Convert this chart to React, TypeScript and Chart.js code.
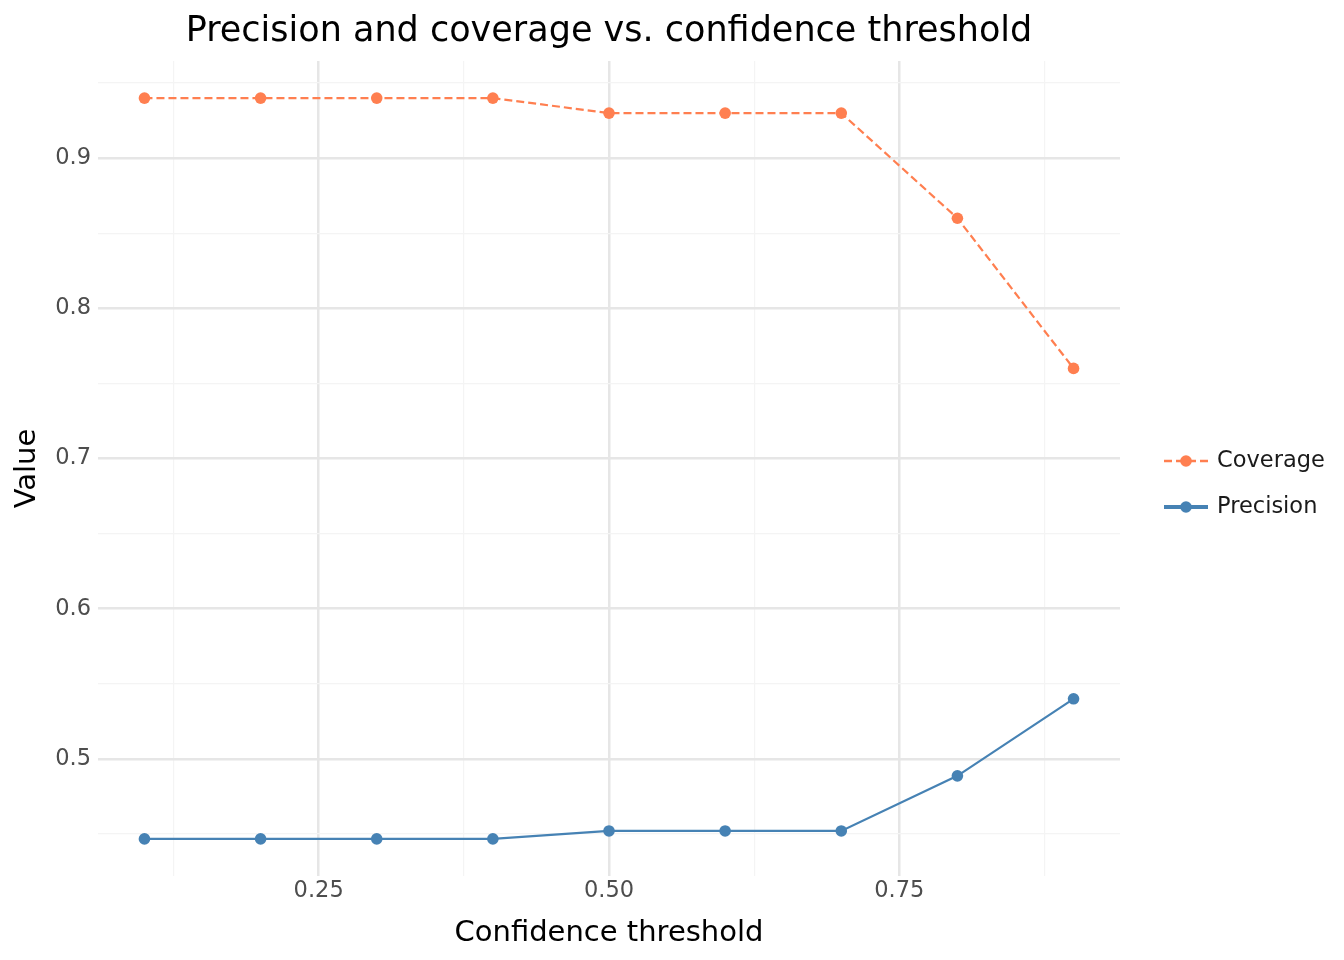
import React, { useEffect, useRef } from "react";
import { Chart, registerables, type ChartConfiguration, type Plugin } from "chart.js";

Chart.register(...registerables);

const thresholds = [0.1, 0.2, 0.3, 0.4, 0.5, 0.6, 0.7, 0.8, 0.9];
const coverage = [0.94, 0.94, 0.94, 0.94, 0.93, 0.93, 0.93, 0.86, 0.76];
const precision = [0.4467, 0.4467, 0.4467, 0.4467, 0.452, 0.452, 0.452, 0.4887, 0.54];

const xMajorTicks = [0.25, 0.5, 0.75];
const xMinorTicks = [0.125, 0.375, 0.625, 0.875];
const yMajorTicks = [0.5, 0.6, 0.7, 0.8, 0.9];
const yMinorTicks = [0.45, 0.55, 0.65, 0.75, 0.85, 0.95];

const FONT = "'DejaVu Sans', 'Noto Sans', sans-serif";
const COVERAGE_COLOR = "#FF7F50";
const PRECISION_COLOR = "#4682B4";
const MAJOR_GRID = "#E6E6E6";
const MINOR_GRID = "#F4F4F4";

const isMajor = (v: number, majors: number[]) => majors.some((m) => Math.abs(m - v) < 1e-9);

// legend on the right, drawn like ggplot's key boxes
const sideLegend: Plugin<"line"> = {
  id: "sideLegend",
  afterDraw(chart) {
    const { ctx } = chart;
    const rows = [
      { ds: chart.data.datasets[0], y: 461, width: 2.5 },
      { ds: chart.data.datasets[1], y: 507, width: 4 },
    ];
    ctx.save();
    for (const row of rows) {
      const color = row.ds.borderColor as string;
      const dash = (row.ds as any).borderDash || [];
      ctx.strokeStyle = color;
      ctx.lineWidth = row.width;
      ctx.setLineDash(dash);
      ctx.beginPath();
      ctx.moveTo(1164, row.y);
      ctx.lineTo(1208, row.y);
      ctx.stroke();
      ctx.setLineDash([]);
      ctx.fillStyle = color;
      ctx.beginPath();
      ctx.arc(1186, row.y, 5.8, 0, Math.PI * 2);
      ctx.fill();
      ctx.fillStyle = "#1A1A1A";
      ctx.font = `22.5px ${FONT}`;
      ctx.textAlign = "left";
      ctx.textBaseline = "middle";
      ctx.fillText(String(row.ds.label), 1217, row.y);
    }
    ctx.restore();
  },
};

export default function App() {
  const canvasRef = useRef<HTMLCanvasElement | null>(null);
  const chartRef = useRef<Chart<"line"> | null>(null);

  useEffect(() => {
    if (!canvasRef.current) return;

    const config: ChartConfiguration<"line"> = {
      type: "line",
      data: {
        datasets: [
          {
            label: "Coverage",
            data: thresholds.map((x, i) => ({ x, y: coverage[i] })),
            borderColor: COVERAGE_COLOR,
            backgroundColor: COVERAGE_COLOR,
            borderWidth: 2.2,
            borderDash: [8, 4],
            pointRadius: 5.8,
            pointBorderWidth: 0,
            pointBackgroundColor: COVERAGE_COLOR,
            tension: 0,
          },
          {
            label: "Precision",
            data: thresholds.map((x, i) => ({ x, y: precision[i] })),
            borderColor: PRECISION_COLOR,
            backgroundColor: PRECISION_COLOR,
            borderWidth: 2.2,
            pointRadius: 5.8,
            pointBorderWidth: 0,
            pointBackgroundColor: PRECISION_COLOR,
            tension: 0,
          },
        ],
      },
      options: {
        responsive: true,
        maintainAspectRatio: false,
        animation: false,
        layout: { padding: { top: 0, right: 224, bottom: 0, left: 0 } },
        plugins: {
          legend: { display: false },
          tooltip: { enabled: false },
          title: {
            display: true,
            fullSize: false,
            text: "Precision and coverage vs. confidence threshold",
            color: "#000000",
            font: { family: FONT, size: 35, weight: "normal" },
            padding: { top: 11, bottom: 8 },
          },
        },
        scales: {
          x: {
            type: "linear",
            min: 0.06,
            max: 0.94,
            afterBuildTicks: (axis) => {
              axis.ticks = [...xMinorTicks, ...xMajorTicks]
                .sort((a, b) => a - b)
                .map((value) => ({ value }));
            },
            afterFit: (axis) => {
              axis.height = 84;
            },
            border: { display: false },
            grid: {
              drawTicks: false,
              color: (c) => (isMajor(c.tick.value, xMajorTicks) ? MAJOR_GRID : MINOR_GRID),
              lineWidth: (c) => (isMajor(c.tick.value, xMajorTicks) ? 2.5 : 1.2),
            },
            ticks: {
              autoSkip: false,
              maxRotation: 0,
              padding: 2,
              color: "#4D4D4D",
              font: { family: FONT, size: 22.5 },
              callback: (v) => (isMajor(Number(v), xMajorTicks) ? Number(v).toFixed(2) : ""),
            },
            title: {
              display: true,
              text: "Confidence threshold",
              color: "#000000",
              font: { family: FONT, size: 29 },
              padding: { top: 0, bottom: 9 },
            },
          },
          y: {
            type: "linear",
            min: 0.422,
            max: 0.9647,
            afterBuildTicks: (axis) => {
              axis.ticks = [...yMinorTicks, ...yMajorTicks]
                .sort((a, b) => a - b)
                .map((value) => ({ value }));
            },
            afterFit: (axis) => {
              axis.width = 98;
            },
            border: { display: false },
            grid: {
              drawTicks: false,
              color: (c) => (isMajor(c.tick.value, yMajorTicks) ? MAJOR_GRID : MINOR_GRID),
              lineWidth: (c) => (isMajor(c.tick.value, yMajorTicks) ? 2.5 : 1.2),
            },
            ticks: {
              autoSkip: false,
              padding: 7,
              color: "#4D4D4D",
              font: { family: FONT, size: 22.5 },
              callback: (v) => (isMajor(Number(v), yMajorTicks) ? Number(v).toFixed(1) : ""),
            },
            title: {
              display: true,
              text: "Value",
              color: "#000000",
              font: { family: FONT, size: 29 },
              padding: { top: 10, bottom: 0 },
            },
          },
        },
      },
      plugins: [sideLegend],
    };

    chartRef.current = new Chart(canvasRef.current, config);

    return () => {
      chartRef.current?.destroy();
      chartRef.current = null;
    };
  }, []);

  return (
    <div style={{ position: "fixed", left: 0, top: 0, width: 1344, height: 960, background: "#FFFFFF" }}>
      <canvas ref={canvasRef} aria-label="Precision and coverage vs. confidence threshold" />
    </div>
  );
}
